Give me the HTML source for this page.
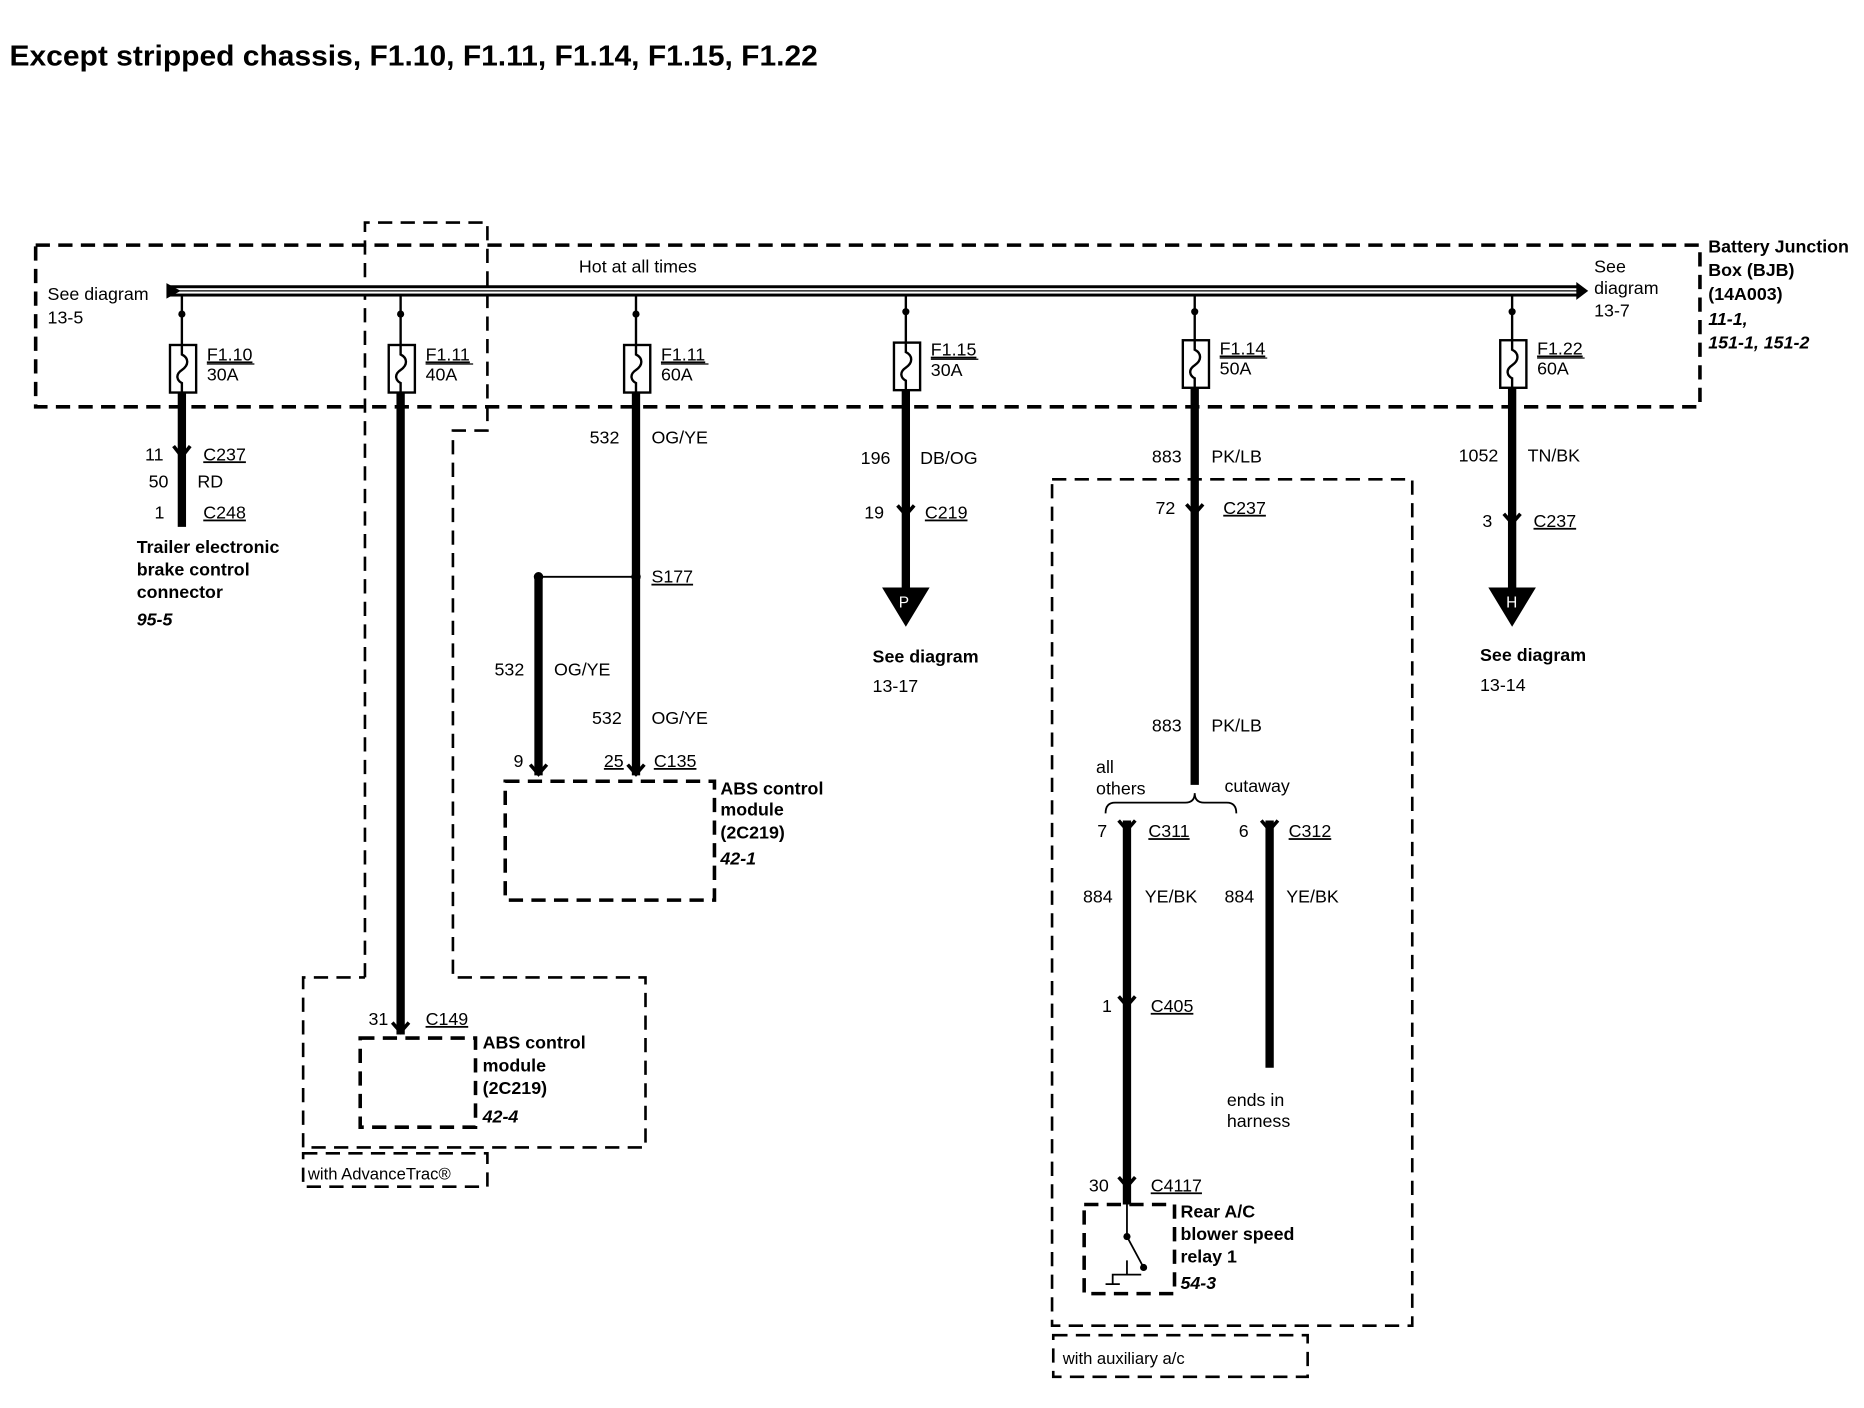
<!DOCTYPE html>
<html><head><meta charset="utf-8"><style>
html,body{margin:0;padding:0;background:#fff}
svg{display:block}
text{font-family:"Liberation Sans",sans-serif;font-size:15px;fill:#000}
.b{font-weight:bold}
.i{font-weight:bold;font-style:italic}
.d{fill:none;stroke:#000;stroke-width:2.2;stroke-dasharray:12,7}
.t{fill:none;stroke:#000;stroke-width:2}
.w{stroke:#000;stroke-width:7;fill:none}
.u{text-decoration:underline}
</style></head><body>
<svg width="1864" height="1408" viewBox="0 0 1568 1184" xmlns="http://www.w3.org/2000/svg">
<text x="8" y="55" class="b" style="font-size:24px" textLength="680" lengthAdjust="spacingAndGlyphs">Except stripped chassis, F1.10, F1.11, F1.14, F1.15, F1.22</text>
<rect x="30" y="206" width="1400" height="136" class="d" style="stroke-width:3"/>
<path d="M307,822 L307,187 L410,187 L410,362 L381,362 L381,822 L543,822 L543,965 L255,965 L255,822 L307,822" class="d"/>
<rect x="255" y="970" width="155" height="28" class="d"/>
<text x="259" y="992" style="font-size:14px">with AdvanceTrac®</text>
<rect x="142" y="241" width="1186" height="7" fill="#fff" stroke="#000" stroke-width="2.5"/>
<line x1="142" y1="244.5" x2="1328" y2="244.5" stroke="#000" stroke-width="1"/>
<polygon points="140,238 152,244.5 140,251" fill="#000"/>
<polygon points="1326,237 1336,244.5 1326,252" fill="#000"/>
<text x="487" y="229">Hot at all times</text>
<text x="40" y="252">See diagram</text><text x="40" y="272">13-5</text>
<text x="1341" y="229">See</text><text x="1341" y="247">diagram</text><text x="1341" y="266">13-7</text>
<text x="1437" y="212" class="b">Battery Junction</text>
<text x="1437" y="232" class="b">Box (BJB)</text>
<text x="1437" y="252" class="b">(14A003)</text>
<text x="1437" y="273" class="i">11-1,</text>
<text x="1437" y="293" class="i">151-1, 151-2</text>
<g>
<g transform="translate(153,0)"><line x1="0" y1="248" x2="0" y2="290" class="t"/><circle cx="0" cy="264" r="3"/><rect x="-10" y="290" width="22" height="40" class="t"/><path d="M0,290 v8 c6,3 6,9 0,13 c-6,4 -4,9 0,11 v8" class="t"/></g>
<g transform="translate(337,0)"><line x1="0" y1="248" x2="0" y2="290" class="t"/><circle cx="0" cy="264" r="3"/><rect x="-10" y="290" width="22" height="40" class="t"/><path d="M0,290 v8 c6,3 6,9 0,13 c-6,4 -4,9 0,11 v8" class="t"/></g>
<g transform="translate(535,0)"><line x1="0" y1="248" x2="0" y2="290" class="t"/><circle cx="0" cy="264" r="3"/><rect x="-10" y="290" width="22" height="40" class="t"/><path d="M0,290 v8 c6,3 6,9 0,13 c-6,4 -4,9 0,11 v8" class="t"/></g>
<g transform="translate(762,-2)"><line x1="0" y1="250" x2="0" y2="290" class="t"/><circle cx="0" cy="264" r="3"/><rect x="-10" y="290" width="22" height="40" class="t"/><path d="M0,290 v8 c6,3 6,9 0,13 c-6,4 -4,9 0,11 v8" class="t"/></g>
<g transform="translate(1005,-4)"><line x1="0" y1="252" x2="0" y2="290" class="t"/><circle cx="0" cy="266" r="3"/><rect x="-10" y="290" width="22" height="40" class="t"/><path d="M0,290 v8 c6,3 6,9 0,13 c-6,4 -4,9 0,11 v8" class="t"/></g>
<g transform="translate(1272,-4)"><line x1="0" y1="252" x2="0" y2="290" class="t"/><circle cx="0" cy="266" r="3"/><rect x="-10" y="290" width="22" height="40" class="t"/><path d="M0,290 v8 c6,3 6,9 0,13 c-6,4 -4,9 0,11 v8" class="t"/></g>
</g>
<text x="174" y="303" class="u">F1.10</text><text x="174" y="320">30A</text><line x1="174" y1="306" x2="214" y2="306" stroke="#000"/>
<text x="358" y="303" class="u">F1.11</text><text x="358" y="320">40A</text><line x1="358" y1="306" x2="398" y2="306" stroke="#000"/>
<text x="556" y="303" class="u">F1.11</text><text x="556" y="320">60A</text><line x1="556" y1="306" x2="596" y2="306" stroke="#000"/>
<text x="783" y="299" class="u">F1.15</text><text x="783" y="316">30A</text><line x1="783" y1="302" x2="823" y2="302" stroke="#000"/>
<text x="1026" y="298" class="u">F1.14</text><text x="1026" y="315">50A</text><line x1="1026" y1="301" x2="1066" y2="301" stroke="#000"/>
<text x="1293" y="298" class="u">F1.22</text><text x="1293" y="315">60A</text><line x1="1293" y1="301" x2="1333" y2="301" stroke="#000"/>
<line x1="153" y1="330" x2="153" y2="443" class="w"/>
<path d="M146,375 L153,384 L160,375" stroke="#000" stroke-width="3" fill="none"/>
<text x="122" y="387">11</text><text x="171" y="387" class="u">C237</text>
<text x="125" y="410">50</text><text x="166" y="410">RD</text>
<text x="130" y="436">1</text><text x="171" y="436" class="u">C248</text>
<text x="115" y="465" class="b">Trailer electronic</text>
<text x="115" y="484" class="b">brake control</text>
<text x="115" y="503" class="b">connector</text>
<text x="115" y="526" class="i">95-5</text>
<line x1="337" y1="330" x2="337" y2="870" class="w"/>
<path d="M330,860 L337,868 L344,860" stroke="#000" stroke-width="3" fill="none"/>
<text x="310" y="862">31</text><text x="358" y="862" class="u">C149</text>
<rect x="303" y="873" width="97" height="75" class="d" style="stroke-width:3"/>
<text x="406" y="882" class="b">ABS control</text><text x="406" y="901" class="b">module</text>
<text x="406" y="920" class="b">(2C219)</text><text x="406" y="944" class="i">42-4</text>
<line x1="535" y1="330" x2="535" y2="652" class="w"/>
<line x1="453" y1="485" x2="453" y2="652" class="w"/>
<line x1="453" y1="485" x2="535" y2="485" class="t" style="stroke-width:1.5"/>
<circle cx="453" cy="485" r="4"/><circle cx="535" cy="485" r="4"/>
<path d="M446,643 L453,651 L460,643 M528,643 L535,651 L542,643" stroke="#000" stroke-width="3" fill="none"/>
<text x="496" y="373">532</text><text x="548" y="373">OG/YE</text>
<text x="548" y="490" class="u">S177</text>
<text x="416" y="568">532</text><text x="466" y="568">OG/YE</text>
<text x="498" y="609">532</text><text x="548" y="609">OG/YE</text>
<text x="432" y="645">9</text><text x="508" y="645" class="u">25</text><text x="550" y="645" class="u">C135</text>
<rect x="425" y="657" width="176" height="100" class="d" style="stroke-width:3"/>
<text x="606" y="668" class="b">ABS control</text><text x="606" y="686" class="b">module</text>
<text x="606" y="705" class="b">(2C219)</text><text x="606" y="727" class="i">42-1</text>
<line x1="762" y1="328" x2="762" y2="497" class="w"/>
<path d="M755,425 L762,433 L769,425" stroke="#000" stroke-width="3" fill="none"/>
<polygon points="742,494 782,494 762,527" fill="#000"/>
<text x="756" y="511" style="fill:#fff;font-size:13px">P</text>
<text x="724" y="390">196</text><text x="774" y="390">DB/OG</text>
<text x="727" y="436">19</text><text x="778" y="436" class="u">C219</text>
<text x="734" y="557" class="b">See diagram</text><text x="734" y="582">13-17</text>
<rect x="885" y="403" width="303" height="712" class="d"/>
<rect x="886" y="1123" width="214" height="35" class="d"/>
<text x="894" y="1147" style="font-size:14px">with auxiliary a/c</text>
<line x1="1005" y1="326" x2="1005" y2="660" class="w"/>
<path d="M998,424 L1005,432 L1012,424" stroke="#000" stroke-width="3" fill="none"/>
<text x="969" y="389">883</text><text x="1019" y="389">PK/LB</text>
<text x="972" y="432">72</text><text x="1029" y="432" class="u">C237</text>
<text x="969" y="615">883</text><text x="1019" y="615">PK/LB</text>
<text x="922" y="650">all</text><text x="922" y="668">others</text><text x="1030" y="666">cutaway</text>
<path d="M930,684 q0,-9 8,-9 L997,675 q8,0 8,-8 q0,8 8,8 L1032,675 q8,0 8,9" class="t" style="stroke-width:1.5"/>
<line x1="948" y1="690" x2="948" y2="1013" class="w"/>
<line x1="1068" y1="690" x2="1068" y2="898" class="w"/>
<path d="M941,690 L948,698 L955,690 M1061,690 L1068,698 L1075,690 M941,838 L948,846 L955,838 M941,990 L948,998 L955,990" stroke="#000" stroke-width="3" fill="none"/>
<text x="923" y="704">7</text><text x="966" y="704" class="u">C311</text>
<text x="1042" y="704">6</text><text x="1084" y="704" class="u">C312</text>
<text x="911" y="759">884</text><text x="963" y="759">YE/BK</text>
<text x="1030" y="759">884</text><text x="1082" y="759">YE/BK</text>
<text x="927" y="851">1</text><text x="968" y="851" class="u">C405</text>
<text x="1032" y="930">ends in</text><text x="1032" y="948">harness</text>
<text x="916" y="1002">30</text><text x="968" y="1002" class="u">C4117</text>
<rect x="912" y="1013" width="76" height="75" class="d" style="stroke-width:3"/>
<path d="M948,1013 L948,1040 M948,1040 L962,1066 M948,1072 L948,1060 M936,1080 L936,1072 L960,1072 M930,1080 L942,1080" class="t" style="stroke-width:1.5"/>
<circle cx="948" cy="1040" r="3"/><circle cx="962" cy="1066" r="3"/>
<text x="993" y="1024" class="b">Rear A/C</text><text x="993" y="1043" class="b">blower speed</text>
<text x="993" y="1062" class="b">relay 1</text><text x="993" y="1084" class="i">54-3</text>
<line x1="1272" y1="326" x2="1272" y2="497" class="w"/>
<path d="M1265,432 L1272,440 L1279,432" stroke="#000" stroke-width="3" fill="none"/>
<polygon points="1252,494 1292,494 1272,527" fill="#000"/>
<text x="1267" y="511" style="fill:#fff;font-size:13px">H</text>
<text x="1227" y="388">1052</text><text x="1285" y="388">TN/BK</text>
<text x="1247" y="443">3</text><text x="1290" y="443" class="u">C237</text>
<text x="1245" y="556" class="b">See diagram</text><text x="1245" y="581">13-14</text>
</svg>
</body></html>
